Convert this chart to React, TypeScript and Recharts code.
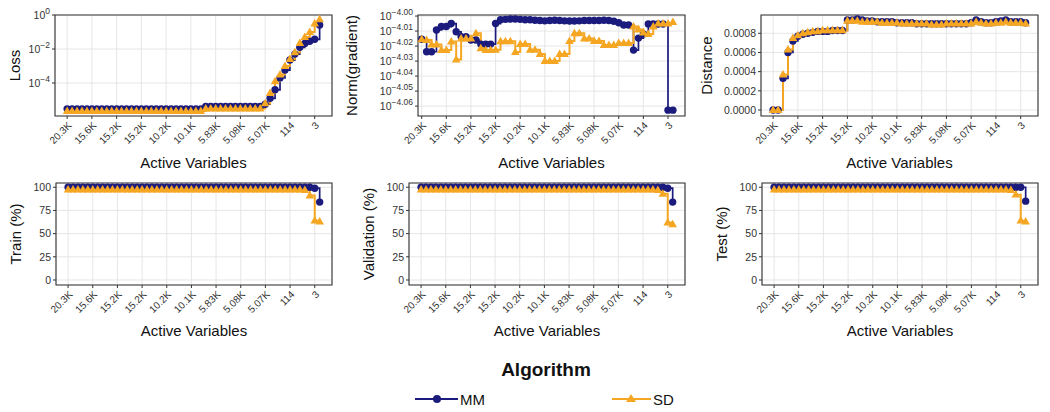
import React from "react";
import { LineChart, Line, XAxis, YAxis, CartesianGrid, ReferenceArea } from "recharts";

const MM_COLOR = "#1b1b7e";
const SD_COLOR = "#f5a623";
const INK = "#333333";
const FONT = "'Liberation Sans', Arial, Helvetica, sans-serif";

// x position = step index, labelled with the number of active variables
const X_TICKS = [0, 5, 10, 15, 20, 25, 30, 35, 40, 45, 50];
const X_TICK_LABELS = ["20.3K", "15.6K", "15.2K", "15.2K", "10.2K", "10.1K", "5.83K", "5.08K", "5.07K", "114", "3"];

// log10(loss)
const LOSS_MM = [
  -5.52, -5.52, -5.52, -5.52, -5.52, -5.52, -5.52, -5.52, -5.52, -5.52,
  -5.52, -5.52, -5.52, -5.52, -5.52, -5.52, -5.52, -5.52, -5.52, -5.52,
  -5.52, -5.52, -5.52, -5.52, -5.52, -5.52, -5.52, -5.52, -5.38, -5.38,
  -5.38, -5.38, -5.38, -5.38, -5.38, -5.38, -5.38, -5.38, -5.38, -5.38,
  -5.25, -4.9, -4.4, -3.7, -3.24, -2.65, -2.3, -1.9, -1.67, -1.55,
  -1.43, -0.59,
];
const LOSS_SD = [
  -5.65, -5.65, -5.65, -5.65, -5.65, -5.65, -5.65, -5.65, -5.65, -5.65,
  -5.65, -5.65, -5.65, -5.65, -5.65, -5.65, -5.65, -5.65, -5.65, -5.65,
  -5.65, -5.65, -5.65, -5.65, -5.65, -5.65, -5.65, -5.65, -5.5, -5.5,
  -5.5, -5.5, -5.5, -5.5, -5.5, -5.5, -5.5, -5.5, -5.5, -5.5,
  -5.2, -4.6, -3.9, -3.5, -3.0, -2.6, -2.2, -1.65, -1.3, -1.0,
  -0.5, -0.25,
];

// log10(norm of gradient)
const NORM_MM = [
  -4.0155, -4.0238, -4.0238, -4.0093, -4.007, -4.007, -4.005, -4.0105, -4.0137, -4.0137,
  -4.016, -4.016, -4.0187, -4.0187, -4.0187, -4.005, -4.0025, -4.0022, -4.002, -4.002,
  -4.0022, -4.0025, -4.0025, -4.0028, -4.003, -4.0032, -4.003, -4.0028, -4.003, -4.0032,
  -4.0033, -4.0033, -4.0032, -4.003, -4.003, -4.003, -4.003, -4.0028, -4.003, -4.0035,
  -4.0045, -4.006, -4.006, -4.0227, -4.0147, -4.012, -4.0053, -4.0053, -4.0053, -4.0053,
  -4.0627, -4.0627,
];
const NORM_SD = [
  -4.0155, -4.016, -4.019, -4.019, -4.0227, -4.0227, -4.017, -4.029, -4.015, -4.015,
  -4.015, -4.0115, -4.0215, -4.0227, -4.0227, -4.0225, -4.0168, -4.0168, -4.0168, -4.024,
  -4.0187, -4.0187, -4.0225, -4.0225, -4.0253, -4.03, -4.03, -4.03, -4.0253, -4.0253,
  -4.0167, -4.0115, -4.0115, -4.015, -4.015, -4.0167, -4.0167, -4.0193, -4.0193, -4.0193,
  -4.018, -4.018, -4.018, -4.007, -4.009, -4.011, -4.012, -4.007, -4.005, -4.005,
  -4.005, -4.004,
];

const DIST_MM = [
  0, 0, 0.00033, 0.0006, 0.00072, 0.00077, 0.00079, 0.0008, 0.00081, 0.00082,
  0.00082, 0.00082, 0.00083, 0.00083, 0.00083, 0.00094, 0.00094, 0.00095, 0.00094, 0.00093,
  0.00093, 0.00092, 0.00092, 0.00092, 0.00092, 0.00091, 0.00091, 0.00091, 0.00091, 0.0009,
  0.0009, 0.0009, 0.0009, 0.0009, 0.0009, 0.0009, 0.0009, 0.0009, 0.0009, 0.0009,
  0.00091, 0.00094, 0.00092, 0.00091, 0.00091, 0.00092, 0.00093, 0.00094, 0.00092, 0.00092,
  0.00092, 0.00091,
];
const DIST_SD = [
  0, 0, 0.00037, 0.00063, 0.00075, 0.00078, 0.0008, 0.00081, 0.00082, 0.00082,
  0.00083, 0.00083, 0.00083, 0.00083, 0.00083, 0.00093, 0.00093, 0.00093, 0.00092, 0.00092,
  0.00092, 0.00092, 0.00091, 0.00091, 0.00091, 0.00091, 0.0009, 0.0009, 0.0009, 0.0009,
  0.0009, 0.0009, 0.00089, 0.00089, 0.00089, 0.0009, 0.0009, 0.0009, 0.0009, 0.0009,
  0.0009, 0.00092, 0.00091, 0.0009, 0.0009, 0.00091, 0.00091, 0.00092, 0.00091, 0.00091,
  0.00091, 0.0009,
];

const TRAIN_MM = [
  100, 100, 100, 100, 100, 100, 100, 100, 100, 100,
  100, 100, 100, 100, 100, 100, 100, 100, 100, 100,
  100, 100, 100, 100, 100, 100, 100, 100, 100, 100,
  100, 100, 100, 100, 100, 100, 100, 100, 100, 100,
  100, 100, 100, 100, 100, 100, 100, 100, 100, 100,
  99, 84,
];
const TRAIN_SD = [
  97.5, 97.5, 97.5, 97.5, 97.5, 97.5, 97.5, 97.5, 97.5, 97.5,
  97.5, 97.5, 97.5, 97.5, 97.5, 97.5, 97.5, 97.5, 97.5, 97.5,
  97.5, 97.5, 97.5, 97.5, 97.5, 97.5, 97.5, 97.5, 97.5, 97.5,
  97.5, 97.5, 97.5, 97.5, 97.5, 97.5, 97.5, 97.5, 97.5, 97.5,
  97.5, 97.5, 97.5, 97.5, 97.5, 97.5, 97.5, 97.5, 97, 91,
  64, 63,
];
const VAL_MM = [
  100, 100, 100, 100, 100, 100, 100, 100, 100, 100,
  100, 100, 100, 100, 100, 100, 100, 100, 100, 100,
  100, 100, 100, 100, 100, 100, 100, 100, 100, 100,
  100, 100, 100, 100, 100, 100, 100, 100, 100, 100,
  100, 100, 100, 100, 100, 100, 100, 100, 100, 100,
  99, 84,
];
const VAL_SD = [
  97.5, 97.5, 97.5, 97.5, 97.5, 97.5, 97.5, 97.5, 97.5, 97.5,
  97.5, 97.5, 97.5, 97.5, 97.5, 97.5, 97.5, 97.5, 97.5, 97.5,
  97.5, 97.5, 97.5, 97.5, 97.5, 97.5, 97.5, 97.5, 97.5, 97.5,
  97.5, 97.5, 97.5, 97.5, 97.5, 97.5, 97.5, 97.5, 97.5, 97.5,
  97.5, 97.5, 97.5, 97.5, 97.5, 97.5, 97.5, 97.5, 97, 93,
  62, 60,
];
const TEST_MM = [
  100, 100, 100, 100, 100, 100, 100, 100, 100, 100,
  100, 100, 100, 100, 100, 100, 100, 100, 100, 100,
  100, 100, 100, 100, 100, 100, 100, 100, 100, 100,
  100, 100, 100, 100, 100, 100, 100, 100, 100, 100,
  100, 100, 100, 100, 100, 100, 100, 100, 100, 100,
  100, 85,
];
const TEST_SD = [
  97.5, 97.5, 97.5, 97.5, 97.5, 97.5, 97.5, 97.5, 97.5, 97.5,
  97.5, 97.5, 97.5, 97.5, 97.5, 97.5, 97.5, 97.5, 97.5, 97.5,
  97.5, 97.5, 97.5, 97.5, 97.5, 97.5, 97.5, 97.5, 97.5, 97.5,
  97.5, 97.5, 97.5, 97.5, 97.5, 97.5, 97.5, 97.5, 97.5, 97.5,
  97.5, 97.5, 97.5, 97.5, 97.5, 97.5, 97.5, 97.5, 97, 92,
  64, 63,
];

const LOSS_TICKS = [-4, -2, 0];
const NORM_TICKS = [-4.06, -4.05, -4.04, -4.03, -4.02, -4.01, -4.0];
const DIST_TICKS = [0, 0.0002, 0.0004, 0.0006, 0.0008];
const PCT_TICKS = [0, 25, 50, 75, 100];

const toRows = (mm: number[], sd: number[]) => mm.map((v, i) => ({ step: i, mm: v, sd: sd[i] }));

const minus = (s: string) => s.replace("-", "\u2212");

const expTick = (digits: number) => (props: any) => {
  const { x, y, payload } = props;
  return (
    <text x={x} y={y} dy="0.36em" textAnchor="end" fill={INK} fontFamily={FONT} fontSize={10.5}>
      <tspan>10</tspan>
      <tspan dy={-5} fontSize={8.5}>{minus(Number(payload.value).toFixed(digits))}</tspan>
    </text>
  );
};

const XTick = (props: any) => {
  const { x, y, payload } = props;
  const label = X_TICK_LABELS[X_TICKS.indexOf(payload.value)];
  return (
    <g transform={`translate(${x},${y})`}>
      <text transform="rotate(-45)" textAnchor="end" dy="0.72em" fill={INK} fontFamily={FONT} fontSize={10}>
        {label}
      </text>
    </g>
  );
};

const circleDot = (p: any) =>
  p.cx == null || p.cy == null ? <g key={`c${p.index}`} /> : (
    <circle key={`c${p.index}`} cx={p.cx} cy={p.cy} r={3.7} fill={MM_COLOR} />
  );

const triangleDot = (p: any) =>
  p.cx == null || p.cy == null ? <g key={`t${p.index}`} /> : (
    <path
      key={`t${p.index}`}
      d={`M${p.cx},${p.cy - 4.6} L${p.cx + 4.3},${p.cy + 2.9} L${p.cx - 4.3},${p.cy + 2.9} Z`}
      fill={SD_COLOR}
    />
  );

const X_DOMAIN: [number, number] = [-2.45, 53.5];

interface PanelProps {
  rows: { step: number; mm: number; sd: number }[];
  box: [number, number, number, number];
  xDomain: [number, number];
  yDomain: [number, number];
  yTicks: number[];
  yTick: any;
}

function Panel({ rows, box, xDomain, yDomain, yTicks, yTick }: PanelProps) {
  const [l, t, r, b] = box;
  const YW = 70;
  const XH = 40;
  const M = 12;
  const w = YW + (r - l) + M;
  const h = M + (b - t) + XH;
  return (
    <div style={{ position: "absolute", left: l - YW, top: t - M }}>
      <LineChart width={w} height={h} data={rows} margin={{ top: M, right: M, bottom: 0, left: 0 }}>
        <CartesianGrid stroke="#e3e3e3" strokeWidth={0.9} />
        <XAxis
          type="number"
          dataKey="step"
          domain={xDomain}
          ticks={X_TICKS}
          allowDataOverflow
          interval={0}
          height={XH}
          tick={<XTick />}
          tickSize={3}
          tickLine={{ stroke: INK }}
          axisLine={false}
        />
        <YAxis
          type="number"
          domain={yDomain}
          ticks={yTicks}
          allowDataOverflow
          interval={0}
          width={YW}
          tick={yTick}
          tickSize={3}
          tickLine={{ stroke: INK }}
          axisLine={false}
        />
        <Line dataKey="mm" type="stepAfter" stroke={MM_COLOR} strokeWidth={1.7} dot={circleDot} isAnimationActive={false} />
        <Line dataKey="sd" type="stepAfter" stroke={SD_COLOR} strokeWidth={2} dot={triangleDot} isAnimationActive={false} />
        <ReferenceArea
          x1={xDomain[0]}
          x2={xDomain[1]}
          y1={yDomain[0]}
          y2={yDomain[1]}
          fill="none"
          fillOpacity={0}
          stroke="#333"
          strokeWidth={1.1}
          ifOverflow="visible"
        />
      </LineChart>
    </div>
  );
}

const distTick = (props: any) => (
  <text x={props.x} y={props.y} dy="0.36em" textAnchor="end" fill={INK} fontFamily={FONT} fontSize={10.5}>
    {Number(props.payload.value).toFixed(4)}
  </text>
);

const pctTick = (props: any) => (
  <text x={props.x} y={props.y} dy="0.36em" textAnchor="end" fill={INK} fontFamily={FONT} fontSize={10.5}>
    {props.payload.value}
  </text>
);

const Y_TITLES = [
  { text: "Loss", x: 20, y: 65.5 },
  { text: "Norm(gradient)", x: 357, y: 65.5 },
  { text: "Distance", x: 712, y: 65.5 },
  { text: "Train (%)", x: 21, y: 234 },
  { text: "Validation (%)", x: 374, y: 234 },
  { text: "Test (%)", x: 727, y: 234 },
];

const X_TITLES = [
  { x: 193.5, y: 168 },
  { x: 551.5, y: 168 },
  { x: 899.5, y: 168 },
  { x: 194, y: 336 },
  { x: 547, y: 336 },
  { x: 900, y: 336 },
];

export default function App() {
  return (
    <div style={{ position: "absolute", left: 0, top: 0, width: 1050, height: 412, background: "#fff", fontFamily: FONT }}>
      <Panel rows={toRows(LOSS_MM, LOSS_SD)} box={[55, 15, 332, 116]} xDomain={X_DOMAIN} yDomain={[-5.94, 0]} yTicks={LOSS_TICKS} yTick={expTick(0)} />
      <Panel rows={toRows(NORM_MM, NORM_SD)} box={[418, 15, 685, 116]} xDomain={[-0.75, 53.45]} yDomain={[-4.0666, -3.9993]} yTicks={NORM_TICKS} yTick={expTick(2)} />
      <Panel rows={toRows(DIST_MM, DIST_SD)} box={[761, 15, 1038, 116]} xDomain={X_DOMAIN} yDomain={[-0.0000626, 0.000991]} yTicks={DIST_TICKS} yTick={distTick} />
      <Panel rows={toRows(TRAIN_MM, TRAIN_SD)} box={[56, 183, 332, 285]} xDomain={X_DOMAIN} yDomain={[-5.4, 104.6]} yTicks={PCT_TICKS} yTick={pctTick} />
      <Panel rows={toRows(VAL_MM, VAL_SD)} box={[409, 183, 685, 285]} xDomain={X_DOMAIN} yDomain={[-5.4, 104.6]} yTicks={PCT_TICKS} yTick={pctTick} />
      <Panel rows={toRows(TEST_MM, TEST_SD)} box={[762, 183, 1038, 285]} xDomain={X_DOMAIN} yDomain={[-5.4, 104.6]} yTicks={PCT_TICKS} yTick={pctTick} />

      <svg width={1050} height={412} style={{ position: "absolute", left: 0, top: 0, pointerEvents: "none" }}>
        {Y_TITLES.map((tt) => (
          <text key={tt.text} transform={`translate(${tt.x},${tt.y}) rotate(-90)`} textAnchor="middle" fontSize={15} fill="#111" fontFamily={FONT}>
            {tt.text}
          </text>
        ))}
        {X_TITLES.map((tt, i) => (
          <text key={i} x={tt.x} y={tt.y} textAnchor="middle" fontSize={15} fill="#111" fontFamily={FONT}>
            Active Variables
          </text>
        ))}
        <text x={546} y={376} textAnchor="middle" fontSize={19} fontWeight="bold" fill="#111" fontFamily={FONT}>
          Algorithm
        </text>
        <line x1={415} y1={399} x2={458} y2={399} stroke={MM_COLOR} strokeWidth={2} />
        <circle cx={437} cy={399} r={4} fill={MM_COLOR} />
        <text x={460} y={404.5} fontSize={15} fill="#111" fontFamily={FONT}>MM</text>
        <line x1={612} y1={399} x2={651} y2={399} stroke={SD_COLOR} strokeWidth={2} />
        <path d="M631,394 L636,402 L626,402 Z" fill={SD_COLOR} />
        <text x={653} y={404.5} fontSize={15} fill="#111" fontFamily={FONT}>SD</text>
      </svg>
    </div>
  );
}
